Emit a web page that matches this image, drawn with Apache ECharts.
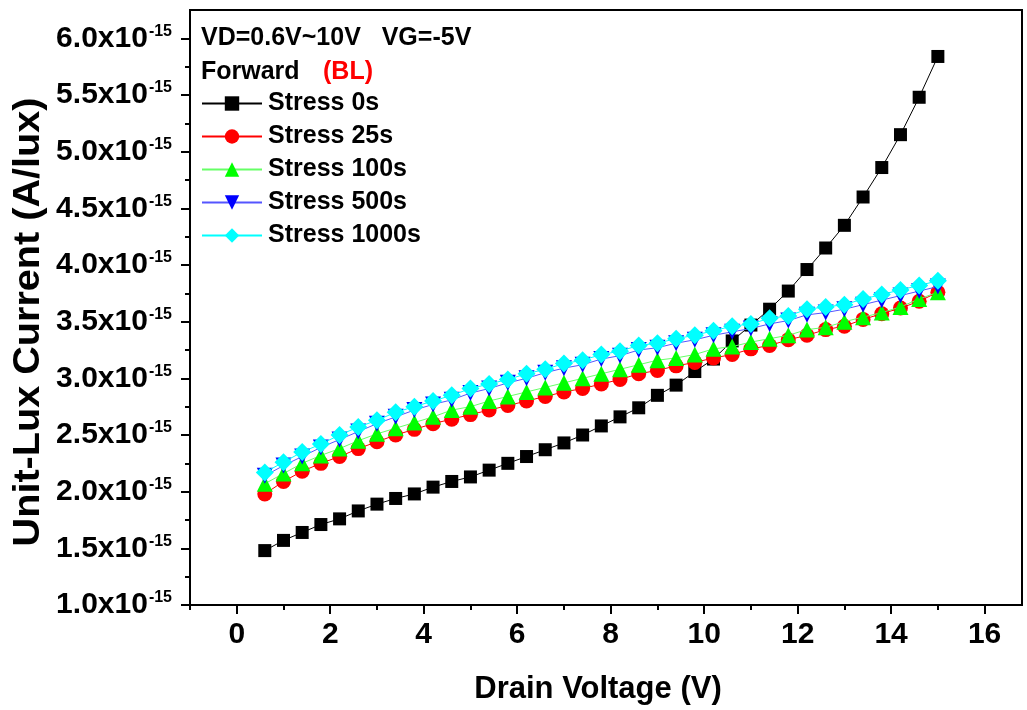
<!DOCTYPE html>
<html><head><meta charset="utf-8">
<script src="https://cdn.jsdelivr.net/npm/echarts@6/dist/echarts.min.js"></script>
<style>html,body{margin:0;padding:0;background:#fff}#c{width:1027px;height:710px}</style>
</head><body><div id="c"></div>
<script>
// Drain voltage (V)
const drainVoltage = [0.6,1.0,1.4,1.8,2.2,2.6,3.0,3.4,3.8,4.2,4.6,5.0,5.4,5.8,6.2,6.6,7.0,7.4,7.8,8.2,8.6,9.0,9.4,9.8,10.2,10.6,11.0,11.4,11.8,12.2,12.6,13.0,13.4,13.8,14.2,14.6,15.0];
// Unit-lux current, in units of 1e-15 A/lux
const stress0s = [1.48,1.57,1.64,1.71,1.76,1.83,1.89,1.94,1.98,2.04,2.09,2.13,2.19,2.25,2.31,2.37,2.43,2.50,2.58,2.66,2.74,2.85,2.94,3.06,3.17,3.33,3.47,3.61,3.77,3.96,4.15,4.35,4.60,4.86,5.15,5.48,5.84];
const stress25s = [1.98,2.09,2.18,2.25,2.31,2.38,2.44,2.50,2.55,2.60,2.64,2.68,2.72,2.76,2.80,2.84,2.88,2.91,2.95,2.99,3.04,3.07,3.11,3.14,3.18,3.21,3.26,3.29,3.34,3.38,3.43,3.46,3.52,3.57,3.62,3.68,3.76];
const stress100s = [2.07,2.16,2.25,2.32,2.38,2.45,2.51,2.56,2.61,2.66,2.72,2.75,2.80,2.84,2.88,2.92,2.96,3.00,3.04,3.08,3.12,3.16,3.18,3.21,3.26,3.28,3.32,3.35,3.38,3.43,3.45,3.50,3.54,3.58,3.63,3.70,3.76];
const stress500s = [2.14,2.23,2.31,2.39,2.46,2.53,2.60,2.66,2.72,2.77,2.81,2.87,2.91,2.96,3.00,3.05,3.09,3.12,3.17,3.20,3.25,3.27,3.31,3.34,3.38,3.41,3.44,3.48,3.51,3.56,3.58,3.61,3.65,3.69,3.73,3.77,3.81];
const stress1000s = [2.17,2.26,2.35,2.42,2.50,2.57,2.63,2.70,2.75,2.80,2.85,2.91,2.95,2.99,3.04,3.08,3.13,3.16,3.21,3.24,3.29,3.31,3.35,3.38,3.42,3.46,3.48,3.53,3.55,3.61,3.63,3.65,3.70,3.74,3.78,3.82,3.86];
const seriesNames = ['Stress 0s','Stress 25s','Stress 100s','Stress 500s','Stress 1000s'];
// Tick values
const xTickLabels = [0,2,4,6,8,10,12,14,16];
const xMinorTicks = [-1,1,3,5,7,9,11,13,15];
const yTickLabels = [1.0,1.5,2.0,2.5,3.0,3.5,4.0,4.5,5.0,5.5,6.0];
const yMinorTicks = [1.25,1.75,2.25,2.75,3.25,3.75,4.25,4.75,5.25,5.75];

const FONT = '"Liberation Sans", Arial, sans-serif';
const pair = arr => drainVoltage.map((x, i) => [x, arr[i]]);

const styles = [
  {symbol: 'rect', size: 13, color: '#000000', line: '#000000'},
  {symbol: 'circle', size: 15, color: '#ff0000', line: '#ff0000'},
  {symbol: 'triangle', size: 16, color: '#00ff00', line: '#66ff66'},
  {symbol: 'path://M0,0 L10,0 L5,9 Z', size: 16, color: '#0000ff', line: '#5555ff'},
  {symbol: 'diamond', size: 18, color: '#00ffff', line: '#00ffff'}
];
const dataSets = [stress0s, stress25s, stress100s, stress500s, stress1000s];

const axisLine = {show: true, onZero: false, lineStyle: {color: '#000', width: 2}};
const chart = echarts.init(document.getElementById('c'), null, {renderer: 'canvas'});
chart.setOption({
  animation: false,
  backgroundColor: '#fff',
  grid: {left: 190, right: 5, top: 10, bottom: 103, show: true, borderColor: '#000', borderWidth: 2, backgroundColor: 'transparent'},
  xAxis: [{
    type: 'value', min: -1, max: 16.8, position: 'bottom',
    name: 'Drain Voltage (V)', nameLocation: 'middle', nameGap: 69,
    nameTextStyle: {fontFamily: FONT, fontWeight: 'bold', fontSize: 31, color: '#000', padding: [0, 16, 0, 0]},
    axisLine: axisLine,
    axisTick: {show: true, inside: false, length: 9, customValues: xTickLabels, lineStyle: {color: '#000', width: 2}},
    axisLabel: {customValues: xTickLabels, margin: 15, fontFamily: FONT, fontWeight: 'bold', fontSize: 30, color: '#000'},
    splitLine: {show: false}
  }, {
    type: 'value', min: -1, max: 16.8, position: 'bottom',
    axisLine: {show: false, onZero: false},
    axisTick: {show: true, length: 5, customValues: xMinorTicks, lineStyle: {color: '#000', width: 2}},
    axisLabel: {show: false}, splitLine: {show: false}
  }],
  yAxis: [{
    type: 'value', min: 1, max: 6.25, position: 'left',
    axisLine: axisLine,
    axisTick: {show: true, length: 9, customValues: yTickLabels, lineStyle: {color: '#000', width: 2}},
    axisLabel: {
      customValues: yTickLabels, margin: 18,
      formatter: v => '{m|' + v.toFixed(1) + 'x10}{s|-15}',
      rich: {
        m: {fontFamily: FONT, fontWeight: 'bold', fontSize: 30, color: '#000'},
        s: {fontFamily: FONT, fontWeight: 'bold', fontSize: 16, color: '#000', verticalAlign: 'top', padding: [0, 0, 14, 1]}
      }
    },
    splitLine: {show: false}
  }, {
    type: 'value', min: 1, max: 6.25, position: 'left',
    axisLine: {show: false, onZero: false},
    axisTick: {show: true, length: 5, customValues: yMinorTicks, lineStyle: {color: '#000', width: 2}},
    axisLabel: {show: false}, splitLine: {show: false}
  }],
  legend: {
    orient: 'vertical', left: 201, top: 91, padding: 0,
    itemWidth: 60, itemHeight: 18, itemGap: 8,
    textStyle: {fontFamily: FONT, fontWeight: 'bold', fontSize: 25, color: '#000', lineHeight: 25, padding: [0, 0, 0, 1]},
    data: seriesNames
  },
  graphic: [
    {type: 'text', left: 201, top: 26, style: {text: 'VD=0.6V~10V   VG=-5V', font: 'bold 25px ' + FONT, fill: '#000'}},
    {type: 'text', left: 201, top: 60, style: {text: 'Forward', font: 'bold 25px ' + FONT, fill: '#000'}},
    {type: 'text', left: 323, top: 60, style: {text: '(BL)', font: 'bold 25px ' + FONT, fill: '#ff0000'}},
    {type: 'text', x: 29, y: 322, rotation: Math.PI / 2, scaleX: 1.1,
     style: {text: 'Unit-Lux Current (A/lux)', font: 'bold 36px ' + FONT, fill: '#000', align: 'center', verticalAlign: 'middle'}}
  ],
  series: dataSets.map((arr, i) => ({
    name: seriesNames[i], type: 'line', xAxisIndex: 0, yAxisIndex: 0,
    data: pair(arr),
    symbol: styles[i].symbol, symbolSize: styles[i].size, showAllSymbol: true,
    lineStyle: {color: styles[i].line, width: 1},
    itemStyle: {color: styles[i].color, borderWidth: 0},
    z: 2 + i
  }))
});
</script></body></html>
